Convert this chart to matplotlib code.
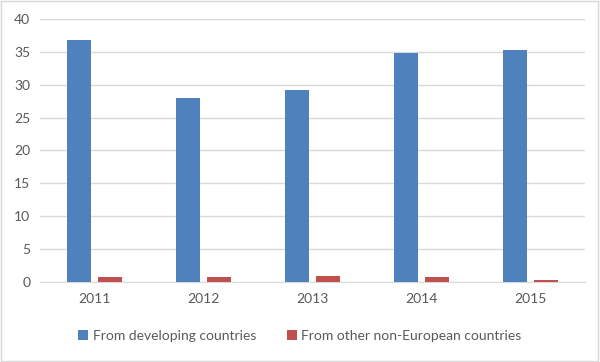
import matplotlib as mpl
import matplotlib.pyplot as plt
import numpy as np
from matplotlib.patches import Rectangle

mpl.rcParams['font.family'] = ['Lato', 'DejaVu Sans']
mpl.rcParams['font.size'] = 10

years = ['2011', '2012', '2013', '2014', '2015']
developing = [36.8, 27.9, 29.2, 34.8, 35.3]
other_non_eu = [0.7, 0.7, 0.9, 0.7, 0.3]

blue = '#4F81BD'
red = '#C0504D'
grey_txt = '#595959'

fig = plt.figure(figsize=(6, 3.62), dpi=100)
ax = fig.add_axes((0.0667, 0.221, 0.908, 0.727))

x = np.arange(len(years))
w = 0.22
ax.bar(x - 0.14, developing, w, color=blue, label='From developing countries', zorder=3)
ax.bar(x + 0.143, other_non_eu, w, color=red, label='From other non-European countries', zorder=3)

ax.set_xlim(-0.5, len(years) - 0.5)
ax.set_ylim(0, 40)
ax.set_yticks(np.arange(0, 41, 5))
ax.set_xticks(x)
ax.set_xticklabels(years)

ax.grid(True, axis='y', color='#d9d9d9', linewidth=1, zorder=0)
for s in ['top', 'right', 'left']:
    ax.spines[s].set_visible(False)
ax.spines['bottom'].set_color('#d9d9d9')
ax.tick_params(axis='both', length=0, colors=grey_txt, labelsize=10)
ax.tick_params(axis='x', pad=8)
ax.tick_params(axis='y', pad=7)

# legend centred on the figure, not the axes
ax.legend(loc='center', bbox_to_anchor=(0.5, 0.073), bbox_transform=fig.transFigure,
          ncol=2, frameon=False, handlelength=0.7, handleheight=0.7,
          columnspacing=2.2, handletextpad=0.35, fontsize=10, labelcolor=grey_txt)

fig.patches.append(Rectangle((0.002, 0.003), 0.995, 0.993, transform=fig.transFigure,
                             fill=False, edgecolor='#d9d9d9', linewidth=1))

plt.savefig('out.png', dpi=100)
